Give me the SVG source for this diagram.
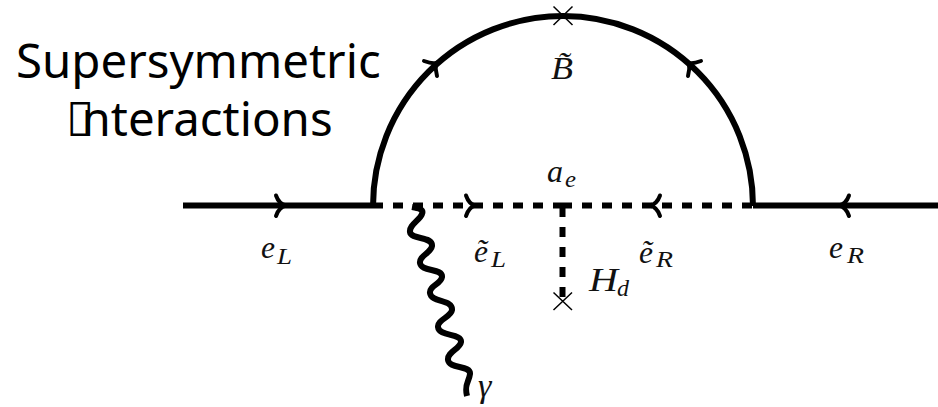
<svg xmlns="http://www.w3.org/2000/svg" width="938" height="407" viewBox="0 0 938 407">
<style>
.l{fill:none;stroke:#000;stroke-width:6}
.d{fill:none;stroke:#000;stroke-width:6;stroke-dasharray:10 10}
.a{fill:none;stroke:#000;stroke-width:4;stroke-linecap:round}
.x{fill:none;stroke:#000;stroke-width:1.5}
.p{fill:none;stroke:#000;stroke-width:6;stroke-linejoin:round}
.m{font-family:"Liberation Serif",serif;font-style:italic;font-size:32px;fill:#111}
.s{font-family:"Liberation Serif",serif;font-style:italic;font-size:23px;fill:#111}
.t{font-family:"Noto Sans","Open Sans",sans-serif;font-size:47.400px;fill:#000}
</style>
<rect width="938" height="407" fill="#fff"/>
<g id="connectors">
<path class="l" d="M183 205.5H373"/>
<path class="l" d="M753 205.5H938"/>
<path class="l" d="M373 206A190 190 0 0 1 753 206"/>
<path class="d" d="M373 205.5H563"/>
<path class="d" d="M752 205.5H563"/>
<path class="d" d="M562.5 207V300"/>
<path class="p" d="M412 207C418 208 424 209 422 214C420 220 409 225 410 232C411 240 433 236 432 246C431 253 419 256 420 263C421 272 443 268 442 277C441 284 429 286 430 293C431 303 453 299 452 310C451 317 437 320 438 327C439 337 462 333 461 342C460 349 447 352 448 360C449 369 471 365 470 374C469 382 464 384 467 396"/>
<g id="arrowheads">
<path class="a" d="M276 195.500Q279 204 286 205.5Q279 207 276 216"/>
<path class="a" d="M466 195.500Q469 204 475 205.5Q469 207 466 216"/>
<path class="a" d="M660 195.500Q657 204 650 205.5Q657 207 660 216"/>
<path class="a" d="M849 195.500Q846 204 839 205.5Q846 207 849 216"/>
<path class="a" d="M424 61Q432 64 436 63Q435 69 437 76"/>
<path class="a" d="M701 61Q693 64 689 63Q690 69 688 76"/>
</g>
</g>
<g id="title">
<text class="t" x="16" y="78">Supersymmetric</text>
<text class="t" x="66" y="136">&#xE000;<tspan x="81.500">nteractions</tspan></text>
</g>
<g id="mass-top"><path class="x" d="M553.500 6.500L572.500 25M572.500 6.500L553.500 25"/></g>
<g id="mass-bottom"><path class="x" d="M553.500 292.500L572 310M572 292.500L553.500 310"/></g>
<g id="label-b"><text class="m" x="551" y="79" textLength="22" lengthAdjust="spacingAndGlyphs">B&#x303;</text></g>
<g id="label-ae"><text class="m" x="547" y="182" textLength="16" lengthAdjust="spacingAndGlyphs">a</text><text class="s" x="565" y="187" textLength="11" lengthAdjust="spacingAndGlyphs">e</text></g>
<g id="label-el"><text class="m" x="261" y="258" textLength="14" lengthAdjust="spacingAndGlyphs">e</text><text class="s" x="277" y="264" textLength="15" lengthAdjust="spacingAndGlyphs">L</text></g>
<g id="label-etl"><text class="m" x="474" y="262" textLength="14" lengthAdjust="spacingAndGlyphs">&#x1EBD;</text><text class="s" x="491" y="267" textLength="15" lengthAdjust="spacingAndGlyphs">L</text></g>
<g id="label-etr"><text class="m" x="639" y="263" textLength="14" lengthAdjust="spacingAndGlyphs">&#x1EBD;</text><text class="s" x="656" y="267" textLength="17" lengthAdjust="spacingAndGlyphs">R</text></g>
<g id="label-er"><text class="m" x="829" y="258" textLength="14" lengthAdjust="spacingAndGlyphs">e</text><text class="s" x="847" y="263" textLength="17" lengthAdjust="spacingAndGlyphs">R</text></g>
<g id="label-hd"><text class="m" x="589" y="291" textLength="29" lengthAdjust="spacingAndGlyphs" style="font-size:33px">H</text><text class="s" x="617" y="296" textLength="12" lengthAdjust="spacingAndGlyphs">d</text></g>
<g id="label-gamma"><text class="m" x="478" y="397" style="font-size:34px">&#x3B3;</text></g>
</svg>
